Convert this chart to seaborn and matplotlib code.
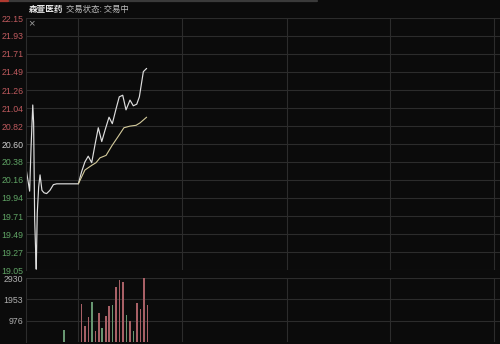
import matplotlib
matplotlib.use("Agg")
import matplotlib.pyplot as plt
import seaborn as sns
import pandas as pd

# ---- data ----
price_t = [0, 1.3, 2.1, 2.9, 3.9, 4.4, 5.0, 5.6, 5.9, 6.5, 7.3, 8.1, 9.2, 10.4, 11.9,
           13.8, 15.8, 17.7, 30.2, 32.1, 34.0, 35.9, 37.9, 39.8, 41.7, 43.7, 45.6,
           47.9, 49.8, 51.8, 53.8, 55.8, 57.7, 60.0, 61.9, 63.9, 65.4, 67.7, 69.6]
price = [20.30, 20.13, 20.02, 20.55, 21.08, 20.86, 19.67, 19.26, 19.06, 19.75, 20.07,
         20.22, 20.03, 20.00, 19.99, 20.03, 20.10, 20.11, 20.11, 20.26, 20.38, 20.45,
         20.37, 20.59, 20.80, 20.63, 20.77, 20.93, 20.85, 21.02, 21.18, 21.20, 21.02,
         21.14, 21.07, 21.09, 21.18, 21.49, 21.53]
avg_t = [30.2, 34.0, 38.1, 40.4, 42.7, 46.2, 49.6, 53.1, 56.5, 60.0, 63.5, 65.8, 69.6]
avg = [20.11, 20.28, 20.34, 20.37, 20.43, 20.46, 20.58, 20.69, 20.80, 20.82, 20.83,
       20.86, 20.93]
vol_t = [22, 32, 34, 36, 38, 40, 42, 44, 46, 48, 50, 52, 54, 56, 58, 60, 62, 64, 66, 68, 70]
vol = [558, 1721, 713, 1132, 1845, 512, 1333, 636, 1209, 1643, 1690, 2496, 2837, 2728,
       1256, 946, 512, 1767, 1488, 2930, 1674]
vol_dir = ["down", "up", "up", "up", "down", "up", "up", "down", "up", "up", "down",
           "up", "up", "up", "down", "up", "down", "up", "up", "up", "up"]
price_ticks = [22.15, 21.93, 21.71, 21.49, 21.26, 21.04, 20.82, 20.60, 20.38, 20.16,
               19.94, 19.71, 19.49, 19.27, 19.05]
vol_ticks = [976, 1953, 2930]
time_grid = [30, 90, 150.3, 210, 270]
title_name = "森萱医药"
title_status = "交易状态: 交易中"
prev_close = 20.60

sns.set_theme(style="dark")
BG = "#0b0b0b"
GRID = "#2c2c2c"
plt.rcParams["font.family"] = ["Liberation Sans", "Noto Sans CJK SC", "DejaVu Sans"]

W, H = 500, 344
fig = plt.figure(figsize=(W / 100, H / 100), dpi=100, facecolor=BG)

def box(x0, y0, x1, y1):
    return [x0 / W, 1 - y1 / H, (x1 - x0) / W, (y1 - y0) / H]

xmax = (500 - 26) / (104 / 60)

ax = fig.add_axes(box(26, 18, 500, 270))
ax2 = fig.add_axes(box(26, 278, 500, 342))

for a in (ax, ax2):
    a.set_facecolor(BG)
    a.set_xlim(0, xmax)
    a.grid(False)
    for s in a.spines.values():
        s.set_visible(False)
    a.spines["left"].set_visible(True)
    a.spines["left"].set_color(GRID)
    a.spines["left"].set_linewidth(0.8)
    for x in time_grid:
        a.axvline(x, color=GRID, lw=0.8, zorder=0)
    a.set_xticks([])
    a.tick_params(axis="y", length=0, pad=2)

# price panel
ax.set_ylim(19.05, 22.15)
for p in price_ticks:
    ax.axhline(p, color=GRID, lw=0.8, zorder=0)
ax.set_yticks(price_ticks)
ax.set_yticklabels([f"{p:.2f}" for p in price_ticks], fontsize=6.3)
for lab, p in zip(ax.get_yticklabels(), price_ticks):
    if p > prev_close + 1e-6:
        lab.set_color("#bf5a5e")
    elif p < prev_close - 1e-6:
        lab.set_color("#60a465")
    else:
        lab.set_color("#cfcfcf")

df_p = pd.DataFrame({"t": price_t, "price": price})
df_a = pd.DataFrame({"t": avg_t, "avg": avg})
sns.lineplot(data=df_p, x="t", y="price", ax=ax, color="#dedede", lw=0.85,
             estimator=None, sort=False)
sns.lineplot(data=df_a, x="t", y="avg", ax=ax, color="#d4cb9c", lw=0.8,
             estimator=None, sort=False)
ax.set_xlabel("")
ax.set_ylabel("")
ax.set_xlim(0, xmax)

# volume panel
ax2.set_ylim(0, 2930)
for v in [0] + vol_ticks:
    ax2.axhline(v, color=GRID, lw=0.8, zorder=0)
ax2.set_yticks(vol_ticks)
ax2.set_yticklabels([str(v) for v in vol_ticks], fontsize=6.3, color="#b0b0b0")
df_v = pd.DataFrame({"t": vol_t, "vol": vol, "dir": vol_dir})
sns.barplot(data=df_v, x="t", y="vol", hue="dir", ax=ax2, native_scale=True,
            palette={"up": "#b4545c", "down": "#5f9e6c"}, width=0.45,
            dodge=False, legend=False, errorbar=None, linewidth=0)
ax2.set_xlabel("")
ax2.set_ylabel("")
ax2.set_xlim(0, xmax)
ax2.set_ylim(0, 2930)

# header
fig.add_artist(plt.Line2D([0, 317 / W], [1 - 0.8 / H, 1 - 0.8 / H],
                          color="#3a3a3a", lw=1.6))
fig.add_artist(plt.Line2D([0, 8 / W], [1 - 0.8 / H, 1 - 0.8 / H],
                          color="#b03a30", lw=1.6))
fig.text(29 / W, 1 - 9.5 / H, title_name, fontsize=6.2, color="#e8e8e8",
         family=["Noto Sans CJK SC"], va="center", ha="left", fontweight="bold")
fig.text(66 / W, 1 - 9.5 / H, title_status, fontsize=6.0, color="#bdbdbd",
         family=["Noto Sans CJK SC"], va="center", ha="left")
fig.text(31 / W, 1 - 23 / H, "×", fontsize=8, color="#9a9a9a",
         va="center", ha="center")

fig.savefig("out.png", dpi=100, facecolor=BG)
